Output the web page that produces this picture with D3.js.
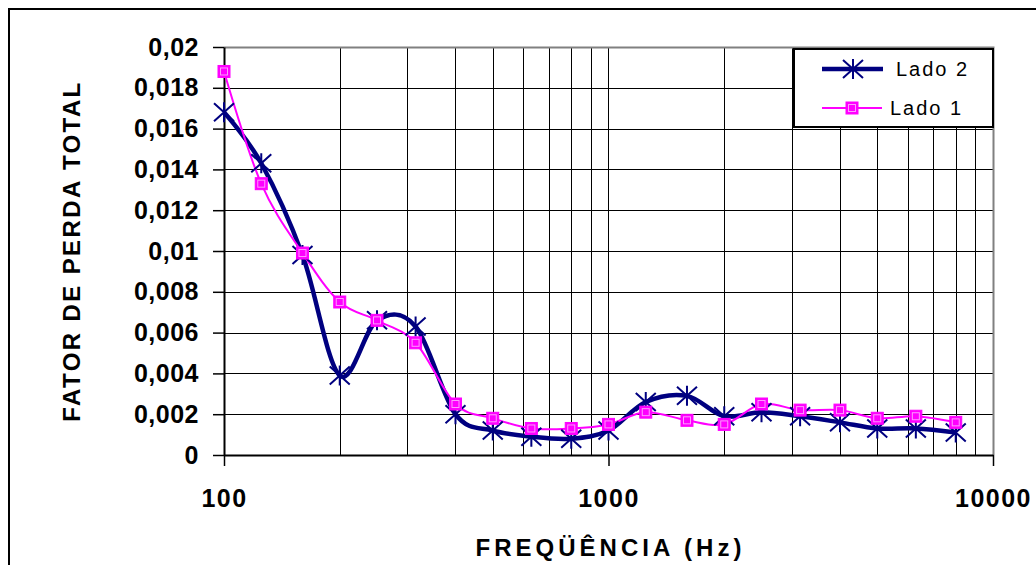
<!DOCTYPE html>
<html>
<head>
<meta charset="utf-8">
<script src="https://cdn.jsdelivr.net/npm/d3@7"></script>
<style>
  html, body { margin: 0; padding: 0; background: #fff; }
  svg { display: block; font-family: "Liberation Sans", Arial, sans-serif; }
</style>
</head>
<body>
<svg id="chart" width="1036" height="565"></svg>
<script>
// ---- data ----
const freqs = [100, 125, 160, 200, 250, 315, 400, 500, 630, 800, 1000, 1250, 1600, 2000, 2500, 3150, 4000, 5000, 6300, 8000];
const lado2 = [0.0168, 0.0143, 0.0098, 0.0039, 0.0066, 0.0063, 0.0020, 0.0012, 0.0009, 0.0008, 0.0012, 0.0026, 0.0029, 0.0019, 0.0021, 0.0019, 0.0016, 0.0013, 0.0013, 0.0011];
const lado1 = [0.0188, 0.0133, 0.0099, 0.0075, 0.0066, 0.0055, 0.0025, 0.0018, 0.0013, 0.0013, 0.0015, 0.0021, 0.0017, 0.0015, 0.0025, 0.0022, 0.0022, 0.0018, 0.0019, 0.0016];
const seriesNames = ["Lado 2", "Lado 1"];
const yTicks = [0, 0.002, 0.004, 0.006, 0.008, 0.01, 0.012, 0.014, 0.016, 0.018, 0.02];
const yTickLabels = ["0", "0,002", "0,004", "0,006", "0,008", "0,01", "0,012", "0,014", "0,016", "0,018", "0,02"];
const xTicks = [100, 1000, 10000];
const xTickLabels = ["100", "1000", "10000"];
const xTitle = "FREQÜÊNCIA (Hz)";
const yTitle = "FATOR DE PERDA TOTAL";

// ---- layout ----
const svg = d3.select("#chart");
const L = 224, R = 993, T = 47, B = 455;
const x = d3.scaleLog().domain([100, 10000]).range([L, R]);
const y = d3.scaleLinear().domain([0, 0.02]).range([B, T]);
const FONT = "Liberation Sans, Arial, sans-serif";

// outer frame
svg.append("rect").attr("x", 9).attr("y", 9).attr("width", 1060).attr("height", 600)
  .attr("fill", "#fff").attr("stroke", "#000").attr("stroke-width", 2);

// vertical grid (log minors)
const gridX = [];
for (let d = 100; d < 10000; d *= 10) for (let k = 2; k <= 10; k++) gridX.push(d * k);
svg.append("g").selectAll("line").data(gridX.filter(v => v < 10000)).join("line")
  .attr("x1", d => Math.round(x(d)) + 0.5).attr("x2", d => Math.round(x(d)) + 0.5)
  .attr("y1", T).attr("y2", B).attr("stroke", "#000").attr("stroke-width", 1);

// horizontal grid
svg.append("g").selectAll("line").data(yTicks.slice(1, -1)).join("line")
  .attr("x1", L).attr("x2", R)
  .attr("y1", d => Math.round(y(d)) + 0.5).attr("y2", d => Math.round(y(d)) + 0.5)
  .attr("stroke", "#000").attr("stroke-width", 1);

// plot top & right border (gray)
svg.append("path").attr("d", `M${L},${T + 0.5}H${R + 0.5}V${B}`)
  .attr("fill", "none").attr("stroke", "#808080").attr("stroke-width", 2);

// y axis
const yAxis = d3.axisLeft(y).tickValues(yTicks).tickSize(11).tickSizeOuter(0)
  .tickFormat((d, i) => yTickLabels[i]).tickPadding(14);
const gy = svg.append("g").attr("transform", `translate(${L},0)`).call(yAxis);
gy.select(".domain").attr("stroke", "#000").attr("stroke-width", 2);
gy.selectAll(".tick line").attr("stroke", "#000").attr("stroke-width", 1.5);
gy.selectAll(".tick text").attr("font-size", 25).attr("font-weight", "bold")
  .attr("fill", "#000").attr("letter-spacing", "0.5px").attr("font-family", FONT);

// x axis
const xAxis = d3.axisBottom(x).tickValues(xTicks).tickSize(11).tickSizeOuter(0)
  .tickFormat((d, i) => xTickLabels[i]).tickPadding(23);
const gx = svg.append("g").attr("transform", `translate(0,${B})`).call(xAxis);
gx.select(".domain").attr("stroke", "#000").attr("stroke-width", 2);
gx.selectAll(".tick line").attr("stroke", "#000").attr("stroke-width", 1.5);
gx.selectAll(".tick text").attr("font-size", 25).attr("font-weight", "bold")
  .attr("fill", "#000").attr("letter-spacing", "1.5px").attr("font-family", FONT);

// axis titles
svg.append("text").attr("x", (L + R) / 2 + 2).attr("y", 556).attr("text-anchor", "middle")
  .attr("font-size", 24).attr("font-weight", "bold").attr("letter-spacing", "4px").text(xTitle);
svg.append("text").attr("transform", `translate(80,${(T + B) / 2}) rotate(-90)`)
  .attr("text-anchor", "middle").attr("font-size", 24).attr("font-weight", "bold")
  .attr("letter-spacing", "2.4px").text(yTitle);

// lines
const line = d3.line().x(d => x(d[0])).y(d => y(d[1])).curve(d3.curveCardinal.tension(0));
const d2 = freqs.map((f, i) => [f, lado2[i]]);
const d1 = freqs.map((f, i) => [f, lado1[i]]);

svg.append("path").datum(d2).attr("d", line).attr("fill", "none")
  .attr("stroke", "#000080").attr("stroke-width", 4.5).attr("stroke-linejoin", "round");
svg.append("path").datum(d1).attr("d", line).attr("fill", "none")
  .attr("stroke", "#FF00FF").attr("stroke-width", 2);

function star(g, cx, cy) {
  const w = 10, h = 9;
  g.append("path").attr("d", `M${cx - w},${cy - h}L${cx + w},${cy + h}M${cx - w},${cy + h}L${cx + w},${cy - h}M${cx},${cy - h - 1}V${cy + h + 1}`)
    .attr("stroke", "#000080").attr("stroke-width", 2).attr("fill", "none");
}
function square(g, cx, cy) {
  g.append("rect").attr("x", cx - 6).attr("y", cy - 6).attr("width", 12).attr("height", 12)
    .attr("fill", "#FF00FF").attr("stroke", "#FF00FF").attr("stroke-width", 1);
  g.append("rect").attr("x", cx - 3.5).attr("y", cy - 3.5).attr("width", 7).attr("height", 7)
    .attr("fill", "none").attr("stroke", "#FF99FF").attr("stroke-width", 1);
}
const m2 = svg.append("g");
d2.forEach(d => star(m2, x(d[0]), y(d[1])));
const m1 = svg.append("g");
d1.forEach(d => square(m1, x(d[0]), y(d[1])));

// legend
const lg = svg.append("g");
lg.append("rect").attr("x", 794).attr("y", 49).attr("width", 199).attr("height", 78)
  .attr("fill", "#fff").attr("stroke", "#000").attr("stroke-width", 2);
lg.append("line").attr("x1", 822).attr("x2", 883).attr("y1", 69).attr("y2", 69)
  .attr("stroke", "#000080").attr("stroke-width", 4.5);
star(lg, 853, 69);
lg.append("text").attr("x", 896).attr("y", 76).attr("font-size", 20).attr("letter-spacing", "2px")
  .text(seriesNames[0]);
lg.append("line").attr("x1", 822).attr("x2", 882).attr("y1", 108).attr("y2", 108)
  .attr("stroke", "#FF00FF").attr("stroke-width", 2);
square(lg, 852, 108);
lg.append("text").attr("x", 890).attr("y", 115).attr("font-size", 20).attr("letter-spacing", "2px")
  .text(seriesNames[1]);
</script>
</body>
</html>
